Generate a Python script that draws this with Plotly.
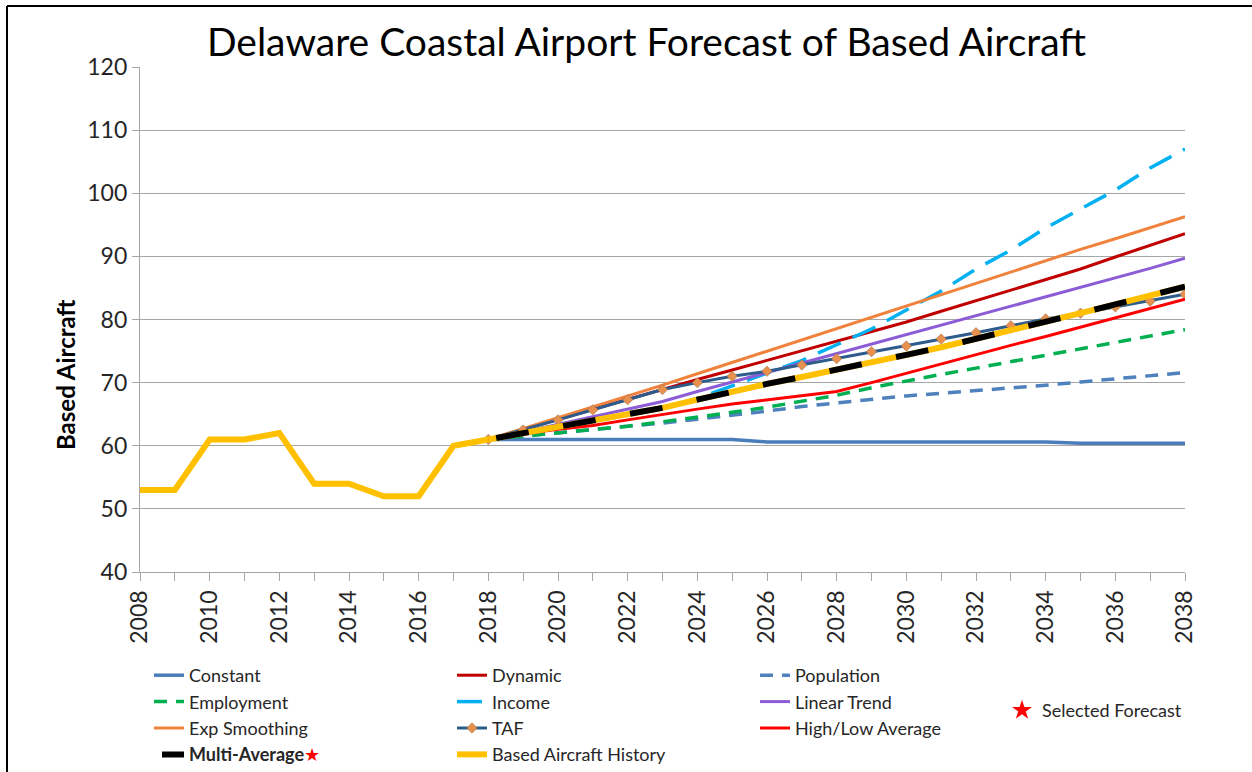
import plotly.graph_objects as go

hist_years = list(range(2008, 2019))
hist_vals = [53, 53, 61, 61, 62, 54, 54, 52, 52, 60, 61]

fc_years = list(range(2018, 2039))
constant = [61, 61, 61, 61, 61, 61, 61, 61, 60.6, 60.6, 60.6, 60.6, 60.6, 60.6, 60.6, 60.6, 60.6, 60.4, 60.4, 60.4, 60.4]
dynamic = [61, 62.6, 64.2, 65.8, 67.4, 69.0, 70.5, 72.0, 73.5, 75.0, 76.5, 78.0, 79.6, 81.3, 83.0, 84.6, 86.3, 88.0, 89.9, 91.8, 93.6]
population = [61, 61.5, 62, 62.5, 63, 63.6, 64.2, 64.8, 65.5, 66.2, 66.8, 67.4, 67.9, 68.3, 68.7, 69.1, 69.6, 70.1, 70.6, 71.1, 71.6]
employment = [61, 61.5, 62.1, 62.6, 63.1, 63.8, 64.5, 65.3, 66.1, 67.0, 68.0, 69.2, 70.3, 71.3, 72.3, 73.3, 74.4, 75.4, 76.4, 77.4, 78.4]
income = [61, 62, 63, 64, 65, 66, 67.5, 69.5, 71.5, 73.5, 76, 78.5, 81.5, 84.5, 88, 91, 94.5, 97.5, 100.5, 104, 107]
linear_trend = [61, 62.2, 63.4, 64.6, 65.8, 67.0, 68.6, 70.1, 71.6, 73.1, 74.5, 76.0, 77.5, 79.0, 80.5, 82.0, 83.5, 85.0, 86.5, 88.1, 89.7]
exp_smoothing = [61, 62.7, 64.4, 66.1, 67.9, 69.6, 71.4, 73.2, 75.0, 76.8, 78.6, 80.4, 82.2, 84.0, 85.8, 87.6, 89.4, 91.1, 92.8, 94.6, 96.3]
taf = [61, 62.5, 64.1, 65.7, 67.3, 68.9, 70.0, 71.0, 71.8, 72.8, 73.8, 74.9, 75.8, 76.9, 77.9, 79.0, 80.1, 81.0, 82.0, 82.9, 84.0]
high_low = [61, 61.9, 62.6, 63.2, 64.1, 65.0, 65.8, 66.6, 67.3, 67.9, 68.6, 70.0, 71.5, 73.0, 74.5, 75.9, 77.3, 78.8, 80.3, 81.7, 83.2]
multi_avg = [61, 62, 63, 64, 65, 66, 67.3, 68.6, 69.8, 70.9, 72.0, 73.2, 74.4, 75.6, 76.9, 78.2, 79.6, 81.0, 82.4, 83.8, 85.2]

x_ticks = list(range(2008, 2039, 2))
y_ticks = list(range(40, 121, 10))

FONT = "Lato"
W, H = 1252, 772
fig = go.Figure()

def line(y, name, color, width, dash="solid", **kw):
    fig.add_trace(go.Scatter(x=fc_years, y=y, name=name, mode="lines",
                             line=dict(color=color, width=width, dash=dash), **kw))

line(constant, "Constant", "#4A7EBB", 3.5)
line(dynamic, "Dynamic", "#C00000", 3)
line(population, "Population", "#4F81BD", 3.5, "13px,9px")
line(employment, "Employment", "#00B050", 3.5, "13px,9px")
line(income, "Income", "#00B0F0", 3.5, "25px,13px")
line(linear_trend, "Linear Trend", "#8C5CD6", 3)
line(exp_smoothing, "Exp Smoothing", "#F0823C", 3)
fig.add_trace(go.Scatter(x=fc_years, y=taf, name="TAF", mode="lines+markers",
                         line=dict(color="#2C5B8C", width=3),
                         marker=dict(symbol="diamond", size=8, color="#E8904E",
                                     line=dict(color="#8A6A50", width=0.5))))
line(high_low, "High/Low Average", "#FF0000", 3)
fig.add_trace(go.Scatter(x=fc_years, y=multi_avg, mode="lines", showlegend=False,
                         line=dict(color="#FFC000", width=6), hoverinfo="skip"))
fig.add_trace(go.Scatter(x=fc_years, y=multi_avg, mode="lines",
                         name="<b>Multi-Average</b><span style='color:#FF0000'>★</span>",
                         line=dict(color="#000000", width=6, dash="0px,8px,33px,27px")))
fig.add_trace(go.Scatter(x=hist_years, y=hist_vals, mode="lines", name="Based Aircraft History",
                         line=dict(color="#FFC000", width=6)))
fig.add_trace(go.Scatter(x=[None], y=[None], mode="markers", name="Selected Forecast",
                         marker=dict(symbol="star", size=15, color="#FF0000"), legend="legend2"))

grid = "#A6A6A6"
fig.update_layout(
    width=W, height=H,
    margin=dict(l=140, r=67, t=67, b=200, autoexpand=False),
    paper_bgcolor="white", plot_bgcolor="white",
    font=dict(family=FONT, color="#262626"),
    title=dict(text="Delaware Coastal Airport Forecast of Based Aircraft",
               x=646.5 / W, xref="container", xanchor="center",
               y=1 - 42 / H, yref="container", yanchor="middle",
               font=dict(family=FONT, size=39, color="#000000")),
    xaxis=dict(range=[2008, 2038], tickvals=x_ticks, tickangle=-90,
               tickfont=dict(size=23, color="#262626"),
               ticks="outside", ticklen=8, tickcolor=grid, tickwidth=1.3,
               minor=dict(dtick=1, tick0=2008, ticks="outside", ticklen=8, tickcolor=grid, tickwidth=1.3),
               showline=True, linecolor=grid, linewidth=1.3, showgrid=False, zeroline=False),
    yaxis=dict(range=[40, 120], tickvals=y_ticks,
               tickfont=dict(size=23, color="#262626"),
               ticks="outside", ticklen=7, tickcolor=grid, tickwidth=1.3,
               showline=True, linecolor=grid, linewidth=1.3,
               showgrid=True, gridcolor=grid, gridwidth=1.3, zeroline=False),
    legend=dict(orientation="h", xref="container", yref="container",
                x=149 / W, xanchor="left", y=1 - 657 / H, yanchor="top",
                entrywidth=258, entrywidthmode="pixels", traceorder="normal",
                font=dict(size=18, color="#262626"), tracegroupgap=0, itemwidth=30,
                bgcolor="rgba(0,0,0,0)"),
    legend2=dict(xref="container", yref="container",
                 x=1002 / W, xanchor="left", y=1 - 692 / H, yanchor="top",
                 font=dict(size=18, color="#262626"), bgcolor="rgba(0,0,0,0)"),
    annotations=[
        dict(text="<b>Based Aircraft</b>", xref="paper", yref="paper",
             x=(65 - 140) / 1045, y=(572 - 375) / 505, textangle=-90,
             showarrow=False, xanchor="center", yanchor="middle",
             font=dict(family=FONT, size=24, color="#000000")),
    ],
    shapes=[
        dict(type="line", xref="paper", yref="paper", x0=(7 - 140) / 1045, x1=1.2,
             y0=(572 - 6) / 505, y1=(572 - 6) / 505, line=dict(color="black", width=2)),
        dict(type="line", xref="paper", yref="paper", x0=(7 - 140) / 1045, x1=(7 - 140) / 1045,
             y0=(572 - 6) / 505, y1=-0.6, line=dict(color="black", width=2)),
    ],
)

fig.write_html("out.html")
